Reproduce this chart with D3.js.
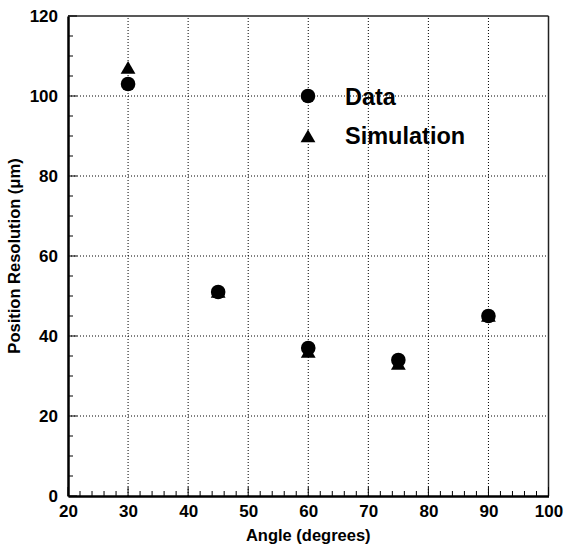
<!DOCTYPE html>
<html><head><meta charset="utf-8">
<script src="https://cdn.jsdelivr.net/npm/d3@7"></script>
<style>body{margin:0;background:#fff}svg{display:block}text{font-family:"Liberation Sans",Arial,sans-serif;font-weight:bold}</style>
</head><body><div id="chart"></div>
<script>
const angles = [30, 45, 60, 75, 90];
const dataValues = [103, 51, 37, 34, 45];
const simValues = [107, 51, 36, 33, 45];
const xTicks = [20, 30, 40, 50, 60, 70, 80, 90, 100];
const yTicks = [0, 20, 40, 60, 80, 100, 120];
const legendLabels = ["Data", "Simulation"];

const W = 564, H = 550;
const m = {left: 68, right: 15.5, top: 16, bottom: 54};
const svg = d3.select("#chart").append("svg").attr("width", W).attr("height", H);
const x = d3.scaleLinear().domain([20, 100]).range([m.left, W - m.right]);
const y = d3.scaleLinear().domain([0, 120]).range([H - m.bottom, m.top]);
const x0 = x(20), x1 = x(100), y0 = y(0), y1 = y(120);

// grid
const g = svg.append("g");
g.selectAll(".vg").data(xTicks.slice(1, -1)).enter().append("line")
  .attr("x1", d => x(d)).attr("x2", d => x(d)).attr("y1", y0).attr("y2", y1)
  .attr("stroke", "#000").attr("stroke-width", 1).attr("stroke-dasharray", "1,2");
g.selectAll(".hg").data(yTicks.slice(1, -1)).enter().append("line")
  .attr("y1", d => y(d)).attr("y2", d => y(d)).attr("x1", x0).attr("x2", x1)
  .attr("stroke", "#000").attr("stroke-width", 1).attr("stroke-dasharray", "1,2");

// frame top/right
svg.append("line").attr("x1", x0).attr("x2", x1).attr("y1", y1).attr("y2", y1).attr("stroke", "#222").attr("stroke-width", 1.5);
svg.append("line").attr("x1", x1).attr("x2", x1).attr("y1", y1).attr("y2", y0).attr("stroke", "#222").attr("stroke-width", 1.5);

// minor/major ticks inward
const xMinor = d3.range(20, 100.01, 2);
svg.selectAll(".xt").data(xMinor).enter().append("line")
  .attr("x1", d => x(d)).attr("x2", d => x(d))
  .attr("y1", y0).attr("y2", d => y0 - (d % 10 === 0 ? 9 : 5))
  .attr("stroke", "#000").attr("stroke-width", 1);
const yMinor = d3.range(0, 120.01, 5);
svg.selectAll(".yt").data(yMinor).enter().append("line")
  .attr("y1", d => y(d)).attr("y2", d => y(d))
  .attr("x1", x0).attr("x2", d => x0 + (d % 20 === 0 ? 9 : 5))
  .attr("stroke", "#000").attr("stroke-width", 1);

// axes
const xAxis = svg.append("g").attr("transform", `translate(0,${y0})`)
  .call(d3.axisBottom(x).tickValues(xTicks).tickSize(0).tickPadding(9).tickFormat(d3.format("d")));
xAxis.select(".domain").attr("stroke-width", 2.5);
xAxis.selectAll("text").attr("font-size", 17).attr("fill", "#000");
const yAxis = svg.append("g").attr("transform", `translate(${x0},0)`)
  .call(d3.axisLeft(y).tickValues(yTicks).tickSize(0).tickPadding(10).tickFormat(d3.format("d")));
yAxis.select(".domain").attr("stroke-width", 2.5);
yAxis.selectAll("text").attr("font-size", 17).attr("fill", "#000");

// axis titles
svg.append("text").attr("x", (x0 + x1) / 2).attr("y", 541).attr("text-anchor", "middle")
  .attr("font-size", 16.5).text("Angle (degrees)");
svg.append("text").attr("transform", `translate(20,${(y0 + y1) / 2}) rotate(-90)`).attr("text-anchor", "middle")
  .attr("font-size", 16.5).text("Position Resolution (\u03bcm)");

// markers
const tri = d3.symbol().type(d3.symbolTriangle).size(95);
svg.selectAll(".sim").data(angles).enter().append("path")
  .attr("d", tri).attr("transform", (d, i) => `translate(${x(d)},${y(simValues[i]) + 1.5})`).attr("fill", "#000");
svg.selectAll(".dat").data(angles).enter().append("circle")
  .attr("cx", d => x(d)).attr("cy", (d, i) => y(dataValues[i])).attr("r", 7.3).attr("fill", "#000");

// legend
const lx = 308;
svg.append("circle").attr("cx", lx).attr("cy", 96).attr("r", 7.3).attr("fill", "#000");
svg.append("path").attr("d", tri).attr("transform", `translate(${lx},${138})`).attr("fill", "#000");
svg.append("text").attr("x", 345).attr("y", 105).attr("font-size", 23.5).text(legendLabels[0]);
svg.append("text").attr("x", 345).attr("y", 144).attr("font-size", 23.5).text(legendLabels[1]);
</script></body></html>
